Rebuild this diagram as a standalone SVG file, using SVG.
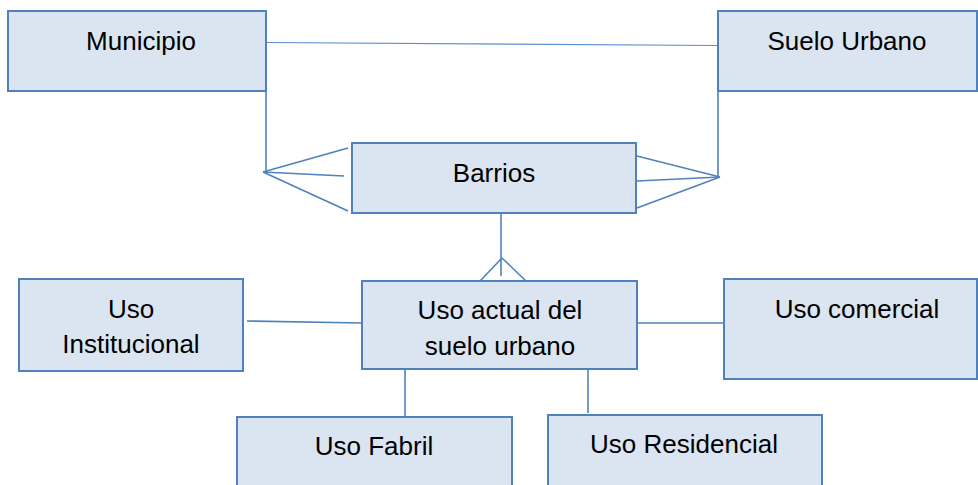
<svg xmlns="http://www.w3.org/2000/svg" width="978" height="485" viewBox="0 0 978 485">
<style>
.box{fill:#dbe5f1;stroke:#4f81bd;stroke-width:2}
.t{font-family:"Liberation Sans",Arial,sans-serif;font-size:26px;fill:#000;text-anchor:middle}
.c{fill:none;stroke:#4f81bd;stroke-width:1.6}
.thin{fill:none;stroke:#5b8fd0;stroke-width:1.2}
</style>
<rect width="978" height="485" fill="#ffffff"/>
<g id="connectors">
<line class="thin" x1="266" y1="42.5" x2="718" y2="45.5"/>
<polyline class="c" points="266,91 266,172"/>
<line class="c" x1="263" y1="172" x2="348" y2="148"/>
<line class="c" x1="263" y1="172" x2="344" y2="176"/>
<line class="c" x1="263" y1="172" x2="348" y2="211"/>
<polyline class="c" points="718,91 718,177"/>
<line class="c" x1="720" y1="177" x2="637" y2="156"/>
<line class="c" x1="720" y1="177" x2="637" y2="181"/>
<line class="c" x1="720" y1="177" x2="637" y2="208"/>
<line class="c" x1="501" y1="213" x2="501" y2="276"/>
<line class="c" x1="502" y1="258" x2="480" y2="281"/>
<line class="c" x1="502" y1="258" x2="526" y2="281"/>
<line class="c" x1="247" y1="321" x2="362" y2="323"/>
<line class="c" x1="637" y1="323" x2="731" y2="323"/>
<line class="c" x1="405" y1="369" x2="405" y2="417"/>
<line class="c" x1="588" y1="369" x2="588" y2="413"/>
</g>
<g id="municipio">
<rect class="box" x="8" y="11" width="258" height="80"/>
<text class="t" x="141" y="50">Municipio</text>
</g>
<g id="suelo-urbano">
<rect class="box" x="718" y="11" width="259" height="80"/>
<text class="t" x="847" y="50">Suelo Urbano</text>
</g>
<g id="barrios">
<rect class="box" x="352" y="143" width="284" height="70"/>
<text class="t" x="494" y="182">Barrios</text>
</g>
<g id="uso-actual">
<rect class="box" x="362" y="281" width="275" height="88"/>
<text class="t" x="500" y="319">Uso actual del</text>
<text class="t" x="500" y="355">suelo urbano</text>
</g>
<g id="uso-institucional">
<rect class="box" x="19" y="279" width="224" height="92"/>
<text class="t" x="131" y="318">Uso</text>
<text class="t" x="131" y="353">Institucional</text>
</g>
<g id="uso-comercial">
<rect class="box" x="724" y="279" width="253" height="100"/>
<text class="t" x="857" y="318">Uso comercial</text>
</g>
<g id="uso-fabril">
<rect class="box" x="237" y="417" width="275" height="80"/>
<text class="t" x="374" y="455">Uso Fabril</text>
</g>
<g id="uso-residencial">
<rect class="box" x="548" y="415" width="274" height="82"/>
<text class="t" x="684" y="453">Uso Residencial</text>
</g>
</svg>
